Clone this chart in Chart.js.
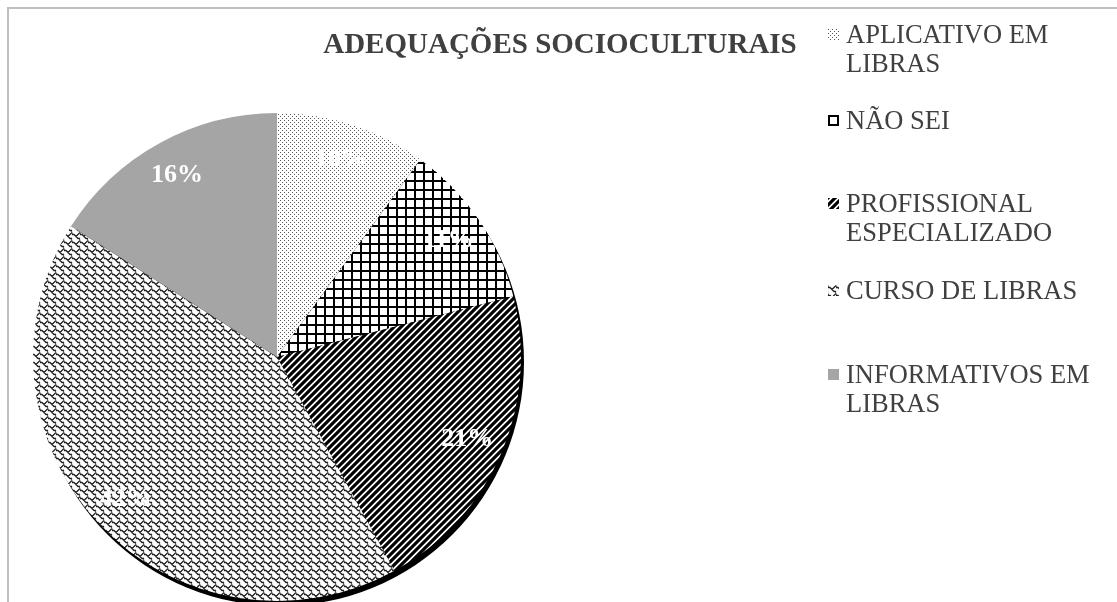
<!DOCTYPE html>
<html lang="pt">
<head>
<meta charset="utf-8">
<title>Adequações socioculturais</title>
<script src="https://cdn.jsdelivr.net/npm/chart.js@4/dist/chart.umd.min.js"></script>
<style>
    html, body { margin: 0; padding: 0; background: #fff; overflow: hidden; }
    #pagina { position: relative; width: 1117px; height: 602px; }
    #moldura {
        position: absolute; left: 7px; top: 7px; width: 1120px; height: 600px;
        border-top: 2px solid #bfbfbf; border-left: 2px solid #bfbfbf;
    }
    #grafico { position: absolute; left: 0; top: 0; }
    #titulo {
        position: absolute; left: 0; width: 1120px; top: 25px; text-align: center;
        font: bold 29px "Liberation Serif", serif; color: #404040; line-height: 36px;
    }
    .legenda-item {
        position: absolute; left: 828px;
        font: 26.5px "Liberation Serif", serif; color: #404040; line-height: 29px;
    }
    .legenda-item canvas { position: absolute; left: 0; top: 9px; }
    .legenda-item span { position: absolute; left: 18px; top: 0; white-space: nowrap; }
</style>
</head>
<body>
<div id="pagina">
    <div id="moldura"></div>
    <canvas id="grafico" width="1117" height="602"></canvas>
    <div id="titulo">ADEQUAÇÕES SOCIOCULTURAIS</div>
    <div id="legenda"></div>
</div>
<script>
const categorias = [
    ["APLICATIVO EM", "LIBRAS"],
    ["NÃO SEI"],
    ["PROFISSIONAL", "ESPECIALIZADO"],
    ["CURSO DE LIBRAS"],
    ["INFORMATIVOS EM", "LIBRAS"]
];
const valores = [10, 11, 21, 42, 16];
const padroes = ["pontos", "grade", "listras", "onda", "cinza"];
const legendaTopo = [20, 106, 189, 276, 360];

// desenha um ladrilho pequeno para cada tipo de preenchimento
function criarLadrilho(tipo) {
    const c = document.createElement("canvas");
    const ctx = c.getContext("2d");
    if (tipo === "pontos") {
        c.width = 4; c.height = 4;
        ctx.fillStyle = "#fff"; ctx.fillRect(0, 0, 4, 4);
        ctx.fillStyle = "#555";
        ctx.fillRect(0, 0, 1, 1);
        ctx.fillRect(2, 2, 1, 1);
    } else if (tipo === "grade") {
        c.width = 9; c.height = 9;
        ctx.fillStyle = "#fff"; ctx.fillRect(0, 0, 9, 9);
        ctx.fillStyle = "#000";
        ctx.fillRect(0, 0, 9, 2);
        ctx.fillRect(0, 0, 2, 9);
    } else if (tipo === "listras") {
        c.width = 7; c.height = 7;
        ctx.fillStyle = "#fff"; ctx.fillRect(0, 0, 7, 7);
        ctx.strokeStyle = "#000"; ctx.lineWidth = 3.2;
        ctx.beginPath();
        ctx.moveTo(-1, 8); ctx.lineTo(8, -1);
        ctx.moveTo(-4, 4); ctx.lineTo(4, -4);
        ctx.moveTo(3, 11); ctx.lineTo(11, 3);
        ctx.stroke();
    } else if (tipo === "onda") {
        c.width = 8; c.height = 8;
        ctx.fillStyle = "#fff"; ctx.fillRect(0, 0, 8, 8);
        ctx.strokeStyle = "#222"; ctx.lineWidth = 1.3;
        ctx.beginPath();
        ctx.moveTo(0, 2.5); ctx.lineTo(2, 2.5); ctx.lineTo(4, 4.5);
        ctx.lineTo(6, 6.5); ctx.lineTo(8, 6.5);
        ctx.moveTo(4, 4.5); ctx.lineTo(6, 2.5); ctx.lineTo(8, 0.5);
        ctx.moveTo(0, 6.5); ctx.lineTo(-2, 8.5);
        ctx.moveTo(0, 0.5); ctx.lineTo(0, 2.5);
        ctx.moveTo(8, 6.5); ctx.lineTo(8, 8);
        ctx.stroke();
    } else {
        c.width = 4; c.height = 4;
        ctx.fillStyle = "#a5a5a5"; ctx.fillRect(0, 0, 4, 4);
    }
    return c;
}

const ladrilhos = padroes.map(criarLadrilho);
const ctxGrafico = document.getElementById("grafico").getContext("2d");
const preenchimentos = ladrilhos.map(l => ctxGrafico.createPattern(l, "repeat"));

// sombra preta deslocada por baixo da pizza
const sombraPizza = {
    id: "sombraPizza",
    beforeDatasetsDraw(chart) {
        const arco = chart.getDatasetMeta(0).data[0];
        if (!arco) return;
        const { x, y, outerRadius } = arco.getProps(["x", "y", "outerRadius"], true);
        const ctx = chart.ctx;
        ctx.save();
        ctx.fillStyle = "#000";
        ctx.beginPath();
        ctx.arc(x + 3, y + 5, outerRadius, 0, Math.PI * 2);
        ctx.fill();
        ctx.restore();
    }
};

// rótulos de percentagem dentro das fatias
const rotulosPizza = {
    id: "rotulosPizza",
    afterDatasetsDraw(chart) {
        const ctx = chart.ctx;
        ctx.save();
        ctx.font = "bold 26px 'Liberation Serif', serif";
        ctx.fillStyle = "#fff";
        ctx.textAlign = "center";
        ctx.textBaseline = "middle";
        chart.getDatasetMeta(0).data.forEach((arco, i) => {
            const p = arco.getProps(["x", "y", "startAngle", "endAngle", "outerRadius"], true);
            const meio = (p.startAngle + p.endAngle) / 2;
            const r = p.outerRadius * 0.85;
            ctx.fillText(`${valores[i]}%`, p.x + Math.cos(meio) * r, p.y + Math.sin(meio) * r);
        });
        ctx.restore();
    }
};

new Chart(ctxGrafico, {
    type: "pie",
    data: {
        labels: categorias.map(c => c.join(" ")),
        datasets: [{
            data: valores,
            backgroundColor: preenchimentos,
            borderWidth: 0
        }]
    },
    options: {
        responsive: false,
        animation: false,
        layout: { padding: { left: 33, right: 596, top: 113, bottom: 1 } },
        plugins: {
            legend: { display: false },
            tooltip: { enabled: false },
            title: { display: false }
        }
    },
    plugins: [sombraPizza, rotulosPizza]
});

// legenda em html, com as amostras dos padrões
const divLegenda = document.getElementById("legenda");
categorias.forEach((linhas, i) => {
    const item = document.createElement("div");
    item.className = "legenda-item";
    item.style.top = legendaTopo[i] + "px";
    const amostra = document.createElement("canvas");
    amostra.width = 11; amostra.height = 11;
    const actx = amostra.getContext("2d");
    actx.fillStyle = actx.createPattern(ladrilhos[i], "repeat");
    actx.fillRect(0, 0, 11, 11);
    item.appendChild(amostra);
    const texto = document.createElement("span");
    texto.innerHTML = linhas.join("<br>");
    item.appendChild(texto);
    divLegenda.appendChild(item);
});
</script>
</body>
</html>
